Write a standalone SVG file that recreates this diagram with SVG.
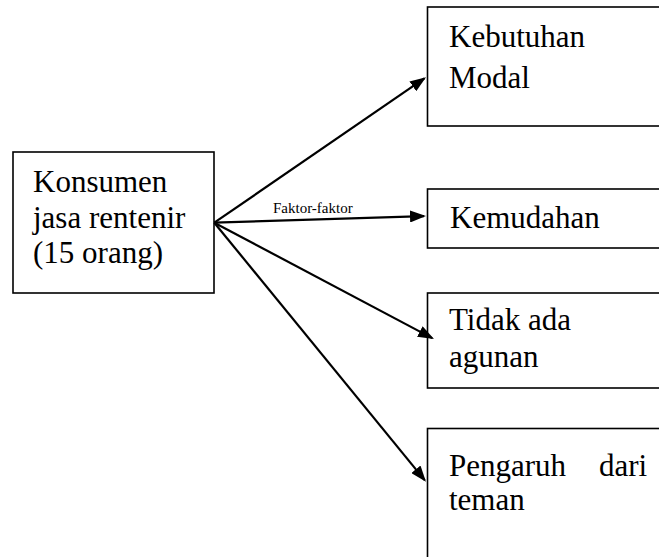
<svg xmlns="http://www.w3.org/2000/svg" width="659" height="557" viewBox="0 0 659 557">
<defs>
<marker id="ah" markerUnits="userSpaceOnUse" markerWidth="16" markerHeight="12" refX="14" refY="6" orient="auto">
<path d="M0,0 L16,6 L0,12 z" fill="#000"/>
</marker>
</defs>
<rect width="659" height="557" fill="#fff"/>
<g id="konsumen">
<rect x="13" y="152" width="201" height="141" fill="#fff" stroke="#000" stroke-width="1.6"/>
<text font-family="Times New Roman, Liberation Serif, serif" font-size="31"><tspan x="33" y="192">Konsumen</tspan><tspan x="33" y="228">jasa rentenir</tspan><tspan x="33" y="263">(15 orang)</tspan></text>
</g>
<g id="kebutuhan">
<rect x="427.5" y="7" width="240" height="119" fill="#fff" stroke="#000" stroke-width="1.6"/>
<text font-family="Times New Roman, Liberation Serif, serif" font-size="31"><tspan x="449" y="47">Kebutuhan</tspan><tspan x="449" y="88">Modal</tspan></text>
</g>
<g id="kemudahan">
<rect x="427.5" y="189" width="240" height="59" fill="#fff" stroke="#000" stroke-width="1.6"/>
<text x="450" y="228" font-family="Times New Roman, Liberation Serif, serif" font-size="31">Kemudahan</text>
</g>
<g id="agunan">
<rect x="427.5" y="293" width="240" height="95" fill="#fff" stroke="#000" stroke-width="1.6"/>
<text font-family="Times New Roman, Liberation Serif, serif" font-size="31"><tspan x="449" y="330">Tidak ada</tspan><tspan x="449" y="367">agunan</tspan></text>
</g>
<g id="teman">
<rect x="427.5" y="428.5" width="240" height="140" fill="#fff" stroke="#000" stroke-width="1.6"/>
<text font-family="Times New Roman, Liberation Serif, serif" font-size="31"><tspan x="449" y="476">Pengaruh</tspan><tspan x="599" y="476">dari</tspan><tspan x="449" y="510">teman</tspan></text>
</g>
<g id="connectors" stroke="#000" stroke-width="2.2" fill="none" marker-end="url(#ah)">
<line x1="214.3" y1="222.7" x2="424.35" y2="78.4"/>
<line x1="214.3" y1="222.7" x2="424" y2="216.06"/>
<line x1="214.3" y1="222.7" x2="432.2" y2="338.1"/>
<line x1="214.3" y1="222.7" x2="424.7" y2="480.15"/>
</g>
<text x="273" y="213" font-family="Times New Roman, Liberation Serif, serif" font-size="15">Faktor-faktor</text>
</svg>
